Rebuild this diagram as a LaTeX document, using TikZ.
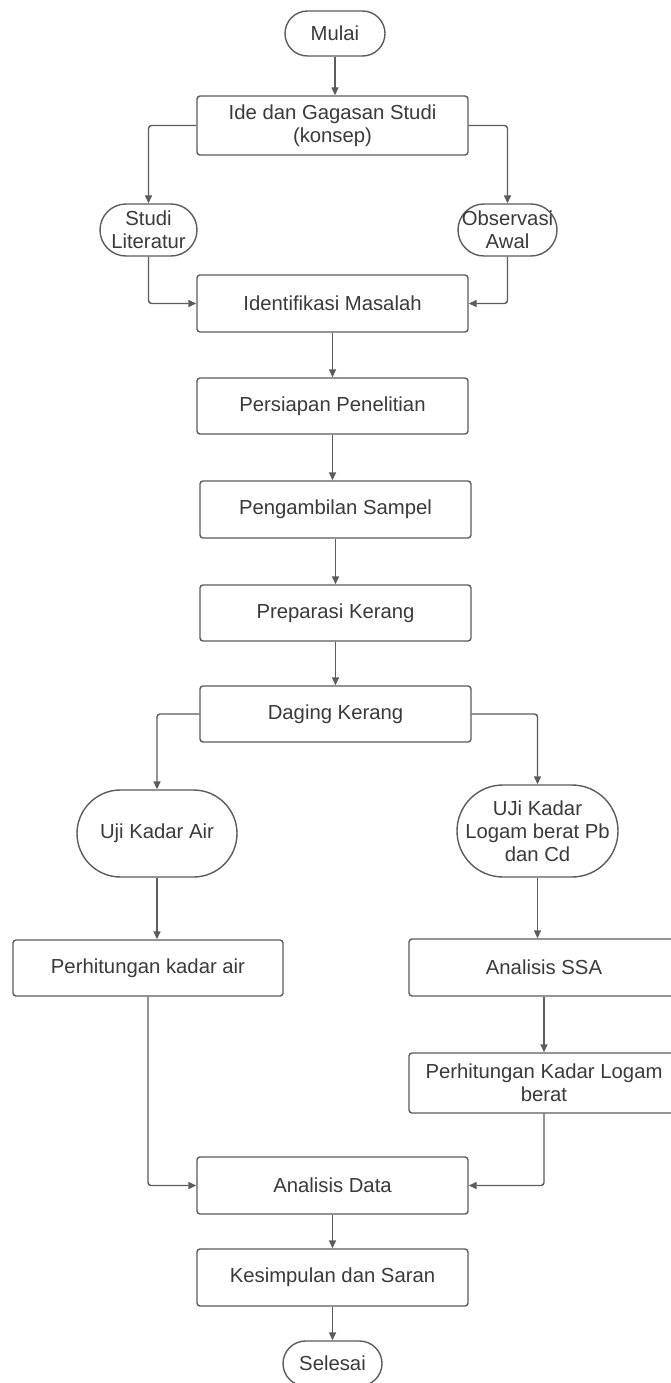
\documentclass[tikz,border=0pt]{standalone}
\usepackage{fontspec}
\setmainfont{Liberation Sans}
\usetikzlibrary{arrows.meta}
\definecolor{linegray}{HTML}{5C5C5C}
\definecolor{txtgray}{HTML}{3A3A3A}

\begin{document}
\begin{tikzpicture}[x=1pt, y=-1pt,
  every node/.style={font=\fontsize{20.3}{23}\selectfont, text=txtgray, align=center, inner sep=0pt},
  procbox/.style={draw=linegray, line width=1.4pt, rounded corners=3pt, minimum width=271pt, minimum height=57pt},
  termbox/.style={draw=linegray, line width=1.4pt},
  flow/.style={draw=linegray, line width=1.4pt, -{Triangle[length=8pt,width=7pt]}, rounded corners=3pt}]
\fill[white] (0,0) rectangle (671,1383);
\useasboundingbox (0,0) rectangle (671,1383);
\node[termbox, minimum width=100pt, minimum height=45pt, rounded corners=22.5pt] (mulai) at (335,33.5) {Mulai};
\node[procbox, minimum height=59pt] (ide) at (332.5,125.5) {Ide dan Gagasan Studi\\(konsep)};
\node[termbox, minimum width=97pt, minimum height=52pt, rounded corners=26pt] (studi) at (148.5,230) {Studi\\Literatur};
\node[termbox, minimum width=99pt, minimum height=52pt, rounded corners=26pt] (observasi) at (507.5,230) {Observasi\\Awal};
\node[procbox] (identifikasi) at (332.5,303.5) {Identifikasi Masalah};
\node[procbox, minimum height=56pt] (persiapan) at (332.5,406) {Persiapan Penelitian};
\node[procbox] (sampel) at (335.5,509.5) {Pengambilan Sampel};
\node[procbox, minimum height=56pt] (preparasi) at (335.5,613) {Preparasi Kerang};
\node[procbox, minimum height=56pt] (daging) at (335.5,714) {Daging Kerang};
\node[termbox, minimum width=160pt, minimum height=87pt, rounded corners=43.5pt] (ujiair) at (157,833.5) {Uji Kadar Air};
\node[termbox, minimum width=161pt, minimum height=92pt, rounded corners=46pt] (ujilogam) at (537.5,831) {UJi Kadar\\Logam berat Pb\\dan Cd};
\node[procbox, minimum width=270pt, minimum height=56pt] (hitair) at (148,968) {Perhitungan kadar air};
\node[procbox, minimum width=270pt] (ssa) at (544,967.5) {Analisis SSA};
\node[procbox, minimum width=270pt, minimum height=60pt] (hitlogam) at (544,1083) {Perhitungan Kadar Logam\\berat};
\node[procbox] (analisis) at (332.5,1185.5) {Analisis Data};
\node[procbox] (kesimpulan) at (332.5,1277.5) {Kesimpulan dan Saran};
\node[termbox, minimum width=99pt, minimum height=45pt, rounded corners=22.5pt] (selesai) at (332.5,1363.5) {Selesai};
\draw[flow] (mulai.south) -- (mulai.south |- ide.north);
\draw[flow] (ide.west) -| (studi.north);
\draw[flow] (ide.east) -| (observasi.north);
\draw[flow] (studi.south) |- (identifikasi.west);
\draw[flow] (observasi.south) |- (identifikasi.east);
\draw[flow] (identifikasi) -- (persiapan);
\draw[flow] (persiapan.south) -- (persiapan.south |- sampel.north);
\draw[flow] (sampel) -- (preparasi);
\draw[flow] (preparasi) -- (daging);
\draw[flow] (daging.west) -| (ujiair.north);
\draw[flow] (daging.east) -| (ujilogam.north);
\draw[flow] (ujiair.south) -- (ujiair.south |- hitair.north);
\draw[flow] (ujilogam.south) -- (ujilogam.south |- ssa.north);
\draw[flow] (ssa) -- (hitlogam);
\draw[flow] (hitair.south) |- (analisis.west);
\draw[flow] (hitlogam.south) |- (analisis.east);
\draw[flow] (analisis) -- (kesimpulan);
\draw[flow] (kesimpulan) -- (selesai);
\end{tikzpicture}
\end{document}
